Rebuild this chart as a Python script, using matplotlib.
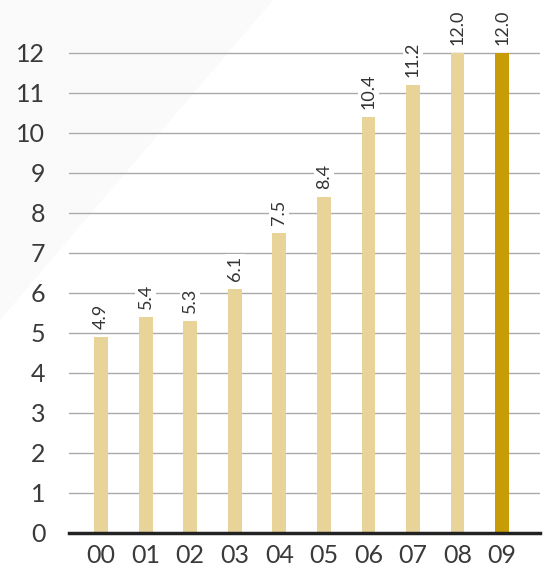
import matplotlib
matplotlib.use('Agg')
import matplotlib.pyplot as plt
from matplotlib.patches import Polygon
import numpy as np

years = ['00', '01', '02', '03', '04', '05', '06', '07', '08', '09']
values = [4.9, 5.4, 5.3, 6.1, 7.5, 8.4, 10.4, 11.2, 12.0, 12.0]
labels = ['4.9', '5.4', '5.3', '6.1', '7.5', '8.4', '10.4', '11.2', '12.0', '12.0']

plt.rcParams['font.family'] = ['Lato', 'DejaVu Sans']

fig = plt.figure(figsize=(5.53, 5.73), dpi=100)
fig.patch.set_facecolor('white')
# faint diagonal background shape
fig.patches.append(Polygon([(0, 1), (273/553, 1), (0, 1 - 320/573)], closed=True,
                           transform=fig.transFigure, facecolor='#fafafa',
                           edgecolor='none', zorder=-10))

ax = fig.add_axes([69/553, 40/573, 471/553, 528/573])
ax.patch.set_alpha(0)

x = np.arange(len(years))
colors = ['#e8d398'] * (len(years) - 1) + ['#c79c07']
ax.bar(x, values, width=0.31, color=colors, zorder=3)

for xi, v, lab in zip(x, values, labels):
    ax.text(xi, v + 0.2, lab, rotation=90, ha='center', va='bottom',
            fontsize=13, color='#333333', zorder=4,
            bbox=dict(facecolor='white', edgecolor='none', pad=1.5))

ax.set_xlim(-0.72, 9.85)
ax.set_ylim(0, 13.2)
ax.set_yticks(range(0, 13))
ax.set_xticks(x)
ax.set_xticklabels(years)
ax.yaxis.grid(True, color='#aaaaaa', lw=1, zorder=0)
ax.set_axisbelow(True)
for s in ['top', 'right', 'left']:
    ax.spines[s].set_visible(False)
ax.spines['bottom'].set_color('#222222')
ax.spines['bottom'].set_linewidth(2.5)
ax.spines['bottom'].set_zorder(5)
ax.tick_params(axis='both', length=0, labelsize=18, labelcolor='#3a3a3a')
ax.tick_params(axis='y', pad=17)
ax.tick_params(axis='x', pad=8)
for t in ax.get_yticklabels():
    t.set_horizontalalignment('right')

fig.savefig('out.png', dpi=100)
